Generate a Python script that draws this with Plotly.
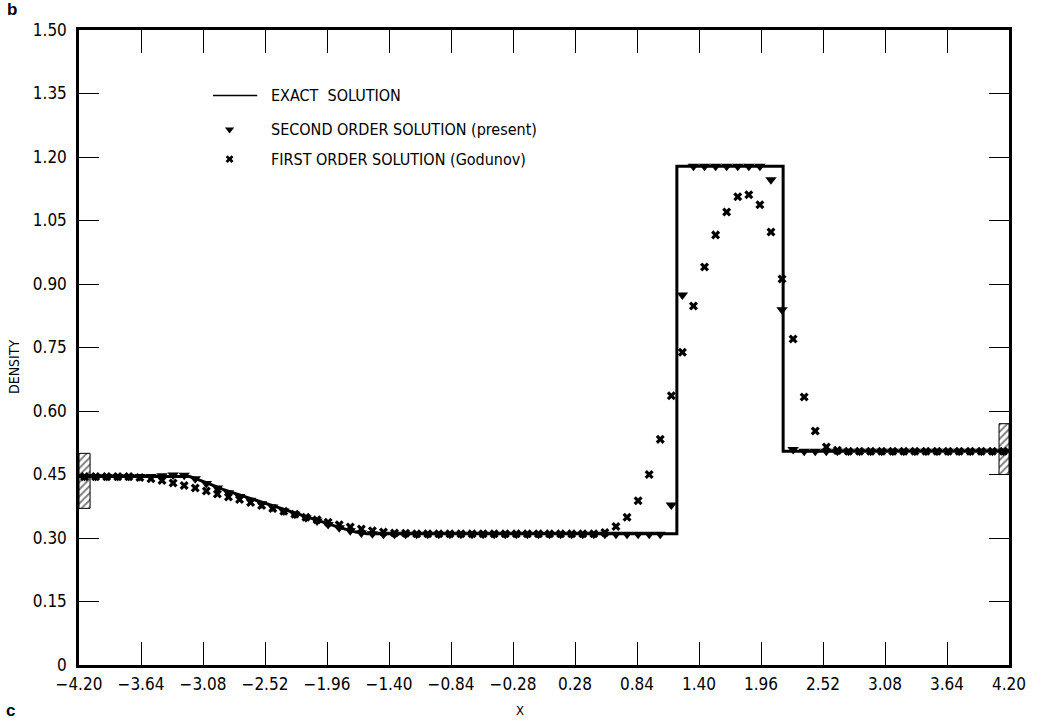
import numpy as np
import plotly.graph_objects as go

# Cell centres of the 84-cell grid on [-4.2, 4.2]
x_cells = np.round(np.arange(84) * 0.1 - 4.15, 2)

# Second order solution (present scheme), one value per cell
rho_second = (
    [0.445] * 7
    + [0.447, 0.449, 0.448, 0.440, 0.429, 0.418, 0.407, 0.398, 0.389, 0.381,
       0.373, 0.364, 0.356, 0.348, 0.340, 0.332, 0.324, 0.317, 0.312, 0.310]
    + [0.309] * 26
    + [0.378, 0.874]
    + [1.178] * 7
    + [1.146, 0.839, 0.509]
    + [0.505] * 19
)

# First order solution (Godunov), one value per cell
rho_first = (
    [0.445] * 5
    + [0.443, 0.440, 0.436, 0.430, 0.424, 0.418, 0.411, 0.404, 0.397, 0.391,
       0.384, 0.377, 0.370, 0.363, 0.356, 0.349, 0.343, 0.337, 0.331, 0.326,
       0.321, 0.317, 0.314, 0.312, 0.311]
    + [0.310] * 17
    + [0.313, 0.327, 0.349, 0.388, 0.450, 0.533, 0.636, 0.739, 0.848, 0.940,
       1.016, 1.070, 1.106, 1.111, 1.087, 1.023, 0.912, 0.770, 0.633, 0.553,
       0.515, 0.507]
    + [0.505] * 15
)

# Exact solution: left state, rarefaction fan, contact and shock jumps
x_exact = [-4.20, -3.20, -3.05, -2.90, -2.75, -2.60, -2.45, -2.30, -2.15,
           -2.00, -1.85, -1.70, -1.60, 1.20, 1.20, 2.16, 2.16, 4.20]
rho_exact = [0.445, 0.445, 0.431, 0.415, 0.402, 0.389, 0.376, 0.363, 0.350,
             0.337, 0.325, 0.314, 0.310, 0.310, 1.178, 1.178, 0.505, 0.505]

# Axis ticks
x_ticks = [-4.20, -3.64, -3.08, -2.52, -1.96, -1.40, -0.84, -0.28,
           0.28, 0.84, 1.40, 1.96, 2.52, 3.08, 3.64, 4.20]
x_tick_text = [("\u2212" if v < 0 else "") + f"{abs(v):.2f}" for v in x_ticks]
y_ticks = [0, 0.15, 0.30, 0.45, 0.60, 0.75, 0.90, 1.05, 1.20, 1.35, 1.50]
y_tick_text = ["0"] + [f"{v:.2f}" for v in y_ticks[1:]]

FONT = "Liberation Sans Narrow, DejaVu Sans Condensed, Arial Narrow, Liberation Sans, sans-serif"

# Plot-area geometry in pixels, used to place page-level labels
PL, PR, PT, PB = 79, 1009, 30, 665


def px_to_paper(px, py):
    return (px - PL) / (PR - PL), (PB - py) / (PB - PT)


fig = go.Figure()

# Hatched end walls of the tube
for wx, wy in (([-4.20, -4.10, -4.10, -4.20, -4.20], [0.37, 0.37, 0.50, 0.50, 0.37]),
               ([4.11, 4.20, 4.20, 4.11, 4.11], [0.45, 0.45, 0.57, 0.57, 0.45])):
    fig.add_trace(go.Scatter(
        x=wx, y=wy, mode="lines", fill="toself",
        fillpattern=dict(shape="/", fgcolor="black", bgcolor="white", size=5, solidity=0.4),
        line=dict(color="black", width=1), hoverinfo="skip", showlegend=False,
    ))

fig.add_trace(go.Scatter(
    x=x_exact, y=rho_exact, mode="lines",
    line=dict(color="black", width=3), name="EXACT SOLUTION", showlegend=False,
))
fig.add_trace(go.Scatter(
    x=x_cells, y=rho_first, mode="markers",
    marker=dict(symbol="x", size=8, color="black", line=dict(width=0)),
    name="FIRST ORDER SOLUTION (Godunov)", showlegend=False,
))
fig.add_trace(go.Scatter(
    x=x_cells, y=rho_second, mode="markers",
    marker=dict(symbol="triangle-down", size=10, color="black", line=dict(width=0)),
    name="SECOND ORDER SOLUTION (present)", showlegend=False,
))

# Key: line sample and marker samples with their captions
fig.add_shape(type="line", x0=-2.99, x1=-2.59, y0=1.345, y1=1.345,
              line=dict(color="black", width=1.5))
fig.add_trace(go.Scatter(x=[-2.84], y=[1.265], mode="markers",
                         marker=dict(symbol="triangle-down", size=8, color="black"),
                         hoverinfo="skip", showlegend=False))
fig.add_trace(go.Scatter(x=[-2.84], y=[1.195], mode="markers",
                         marker=dict(symbol="x", size=7, color="black", line=dict(width=0)),
                         hoverinfo="skip", showlegend=False))
for ty, txt in ((1.345, "EXACT  SOLUTION"),
                (1.265, "SECOND ORDER SOLUTION (present)"),
                (1.195, "FIRST ORDER SOLUTION (Godunov)")):
    fig.add_annotation(x=-2.48, y=ty, text=txt, showarrow=False, xanchor="left",
                       yanchor="middle", font=dict(family=FONT, size=16, color="black"))

# Axis titles and panel letters
for (px, py), txt, size, ang, fam in (
        ((520, 710), "X", 13, 0, FONT),
        ((14, 367), "DENSITY", 14, -90, FONT),
        ((12, 9), "<b>b</b>", 17, 0, "Liberation Sans, Arial, sans-serif"),
        ((10, 710), "<b>c</b>", 17, 0, "Liberation Sans, Arial, sans-serif")):
    ax_, ay_ = px_to_paper(px, py)
    fig.add_annotation(x=ax_, y=ay_, xref="paper", yref="paper", text=txt,
                       showarrow=False, xanchor="center", yanchor="middle",
                       textangle=ang, font=dict(family=fam, size=size, color="black"))

axis_common = dict(
    showline=True, linecolor="black", linewidth=2.5, mirror="allticks",
    ticks="inside", tickcolor="black", tickwidth=1.3,
    showgrid=False, zeroline=False,
    tickfont=dict(family=FONT, size=17, color="black"),
)
fig.update_xaxes(range=[-4.2, 4.2], tickvals=x_ticks, ticktext=x_tick_text,
                 ticklen=23, ticklabelstandoff=2, **axis_common)
fig.update_yaxes(range=[0, 1.5], tickvals=y_ticks, ticktext=y_tick_text,
                 ticklen=20, ticklabelstandoff=6, **axis_common)

fig.update_layout(
    width=1043, height=721,
    margin=dict(l=PL, r=1043 - PR, t=PT, b=721 - PB),
    paper_bgcolor="white", plot_bgcolor="white",
    font=dict(family=FONT, color="black"),
)

fig.write_html("out.html")
